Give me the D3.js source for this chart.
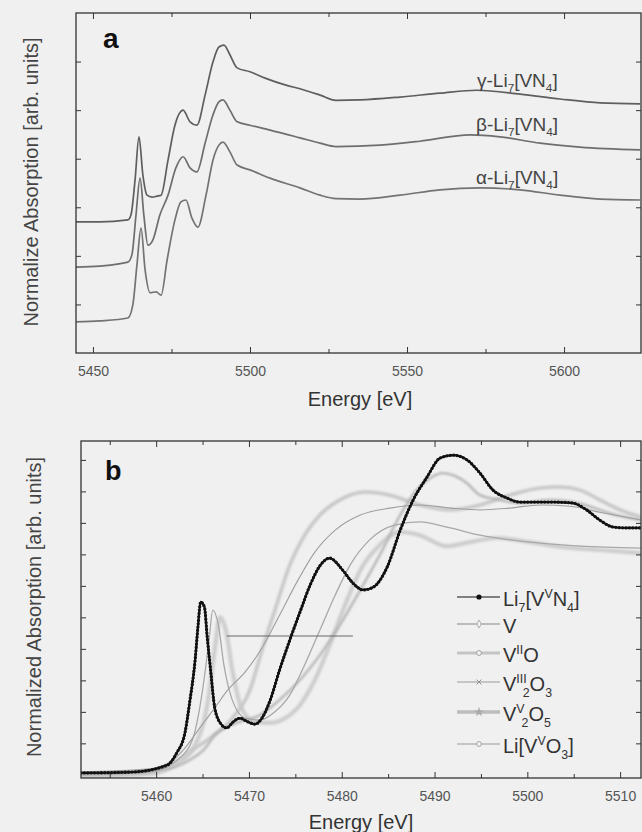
<!DOCTYPE html>
<html><head><meta charset="utf-8">
<script src="https://cdn.jsdelivr.net/npm/d3@7"></script>
<style>
html,body{margin:0;padding:0;background:#f0f0f0;}
svg{display:block;font-family:"Liberation Sans",Arial,Helvetica,sans-serif;}
</style></head><body>
<svg id="c" width="642" height="832"></svg>
<script>
// ---------- Panel a data (Energy eV, normalized absorption, stacked) ----------
const aTicksMajor = [5450, 5500, 5550, 5600];
const aTicksMinor = [5475, 5525, 5575, 5625];
const aYTicks = [1, 2, 3, 4, 5, 6];

const gammaE = [5444.6,5452.2,5461.1,5462.1,5463.4,5464.65,5465.9,5467.2,5468.8,5470.4,5471.7,5473.9,5476.1,5478.7,5480.9,5483.1,5485.7,5488.2,5490.1,5491.7,5493.6,5495.9,5500.0,5504.8,5511.2,5515.9,5522.3,5527.4,5535.0,5547.8,5560.5,5572.3,5586.0,5598.7,5611.5,5624.2];
const gammaY = [2.70,2.70,2.74,2.84,3.56,4.45,3.66,3.25,3.21,3.23,3.25,3.97,4.69,5.00,4.76,4.69,5.31,5.99,6.30,6.34,6.14,5.87,5.79,5.66,5.52,5.44,5.31,5.20,5.21,5.27,5.35,5.41,5.33,5.23,5.15,5.13];

const betaE = [5444.6,5452.2,5461.1,5462.4,5463.7,5465.0,5466.2,5467.5,5469.1,5471.3,5473.9,5476.4,5478.7,5480.9,5483.1,5485.7,5488.2,5490.1,5491.4,5493.6,5495.9,5500.0,5506.4,5515.9,5522.3,5527.4,5541.4,5554.1,5570.1,5579.6,5592.4,5605.1,5624.2];
const betaY = [1.77,1.79,1.87,2.02,2.84,3.60,2.84,2.22,2.33,2.84,3.25,3.81,4.04,3.81,3.73,4.32,4.90,5.17,5.21,5.00,4.76,4.69,4.59,4.43,4.32,4.25,4.28,4.36,4.49,4.45,4.32,4.24,4.18];

const alphaE = [5444.6,5452.2,5461.1,5462.7,5464.0,5465.3,5466.6,5468.2,5470.1,5471.7,5473.6,5476.1,5478.0,5479.6,5481.5,5483.4,5486.0,5488.2,5490.1,5491.4,5493.6,5495.9,5500.0,5506.4,5515.9,5522.3,5527.4,5535.0,5547.8,5560.5,5573.3,5586.0,5598.7,5611.5,5624.2];
const alphaY = [0.64,0.66,0.72,0.99,1.81,2.57,1.71,1.24,1.26,1.19,1.91,2.74,3.11,3.15,2.78,2.59,3.25,3.97,4.28,4.34,4.14,3.87,3.77,3.60,3.40,3.25,3.18,3.17,3.25,3.36,3.40,3.36,3.25,3.17,3.15];

// ---------- Panel b data ----------
const bTicksMajor = [5460, 5470, 5480, 5490, 5500, 5510];
const bTicksMinor = [5455, 5465, 5475, 5485, 5495, 5505];
const bYTicks = [0.1,0.2,0.3,0.4,0.5,0.6,0.7,0.8,0.9,1.0];

const lvnE = [5451.9,5457.5,5461.2,5462.2,5463.1,5463.6,5464.2,5464.5,5464.8,5465.2,5465.5,5465.9,5466.3,5466.9,5467.6,5468.3,5469.0,5469.9,5470.65,5471.4,5472.3,5473.3,5474.4,5475.5,5476.6,5477.7,5478.7,5480.1,5481.2,5482.3,5483.4,5484.9,5486.3,5487.7,5489.2,5490.6,5492.0,5493.5,5494.9,5496.3,5497.8,5499.2,5500.6,5502.8,5504.9,5506.4,5507.8,5509.2,5510.7,5512.2];
const lvnY = [0.006,0.009,0.031,0.069,0.133,0.228,0.365,0.469,0.549,0.533,0.438,0.323,0.215,0.165,0.149,0.168,0.180,0.168,0.161,0.180,0.238,0.333,0.428,0.517,0.603,0.666,0.688,0.650,0.609,0.587,0.596,0.660,0.777,0.873,0.946,1.006,1.015,1.000,0.958,0.904,0.879,0.866,0.866,0.866,0.863,0.841,0.809,0.787,0.784,0.784];

const vE = [5451.9,5459.3,5461.5,5463.1,5464.7,5466.3,5467.7,5469.6,5471.4,5473.3,5475.3,5477.1,5479.3,5482.0,5485.2,5488.4,5491.7,5494.9,5498.1,5501.4,5504.6,5507.8,5512.25];
const vY = [0.009,0.019,0.041,0.085,0.149,0.212,0.269,0.327,0.403,0.507,0.619,0.707,0.777,0.825,0.847,0.857,0.847,0.841,0.847,0.857,0.853,0.834,0.809];

const voE = [5451.9,5459.3,5462.0,5464.2,5466.3,5468.5,5470.1,5471.4,5472.8,5474.4,5476.0,5477.65,5479.8,5482.5,5485.2,5488.4,5491.7,5494.9,5498.1,5501.4,5503.5,5505.7,5507.8,5510.0,5512.25];
const voY = [-0.004,0.009,0.041,0.085,0.127,0.190,0.269,0.396,0.523,0.666,0.761,0.825,0.873,0.898,0.888,0.857,0.841,0.857,0.888,0.911,0.914,0.904,0.873,0.841,0.819];

const v2o3E = [5451.9,5460.4,5463.6,5465.3,5466.3,5467.4,5469.0,5471.2,5473.3,5475.5,5477.65,5479.8,5482.0,5484.1,5486.3,5487.9,5489.5,5490.9,5492.2,5493.5,5494.9,5497.05,5499.2,5502.4,5505.1,5507.8,5510.0,5512.25];
const v2o3Y = [0.003,0.015,0.047,0.085,0.127,0.149,0.168,0.190,0.238,0.301,0.380,0.476,0.587,0.698,0.825,0.898,0.942,0.958,0.949,0.926,0.888,0.873,0.863,0.873,0.866,0.841,0.822,0.809];

const v2o5E = [5451.9,5459.3,5462.0,5464.2,5465.6,5466.3,5466.9,5467.5,5468.3,5469.2,5470.65,5472.3,5473.9,5475.5,5477.1,5478.7,5480.35,5482.0,5484.1,5486.3,5488.4,5491.3,5493.8,5496.7,5500.3,5503.8,5507.8,5512.25];
const v2o5Y = [-0.004,0.003,0.031,0.095,0.238,0.396,0.501,0.460,0.317,0.212,0.168,0.165,0.180,0.222,0.301,0.412,0.539,0.650,0.730,0.771,0.761,0.726,0.739,0.752,0.739,0.723,0.714,0.704];

const livo3E = [5451.9,5459.3,5462.0,5463.9,5465.0,5465.7,5466.1,5466.7,5467.3,5468.2,5469.6,5471.2,5472.8,5474.4,5476.0,5477.65,5479.3,5480.9,5483.0,5485.7,5488.4,5491.7,5494.9,5498.1,5501.4,5505.7,5512.25];
const livo3Y = [0.000,0.009,0.041,0.111,0.269,0.428,0.523,0.476,0.349,0.238,0.180,0.174,0.200,0.253,0.349,0.460,0.571,0.666,0.746,0.793,0.803,0.784,0.761,0.746,0.736,0.726,0.720];

// reference line (edge position marker)
const markE = [5467.6, 5481.2];
const markY = [0.441, 0.441];

// ---------- drawing ----------
const svg = d3.select('#c');
svg.append('rect').attr('width',642).attr('height',832).attr('fill','#f0f0f0');
const defs = svg.append('defs');
defs.append('filter').attr('id','soft').append('feGaussianBlur').attr('stdDeviation',0.9);

const zip = (E, Y) => E.map((e, i) => [e, Y[i]]);

function rich(textSel, parts, size) {
  let shift = 0;
  parts.forEach(p => {
    const [t, k, dx] = p;
    const target = k === 'sub' ? size * 0.28 : (k === 'sup' ? -size * 0.38 : 0);
    const ts = textSel.append('tspan')
      .attr('dy', target - shift)
      .attr('font-size', k ? size * 0.62 : size)
      .text(t);
    if (dx) ts.attr('dx', dx);
    shift = target;
  });
}

function frame(g, x, y, xMaj, xMin, yT) {
  const [x0, x1] = x.range(); const [y0, y1] = y.range();
  g.append('g').attr('transform', `translate(0,${y0})`)
    .call(d3.axisBottom(x).tickValues(xMaj).tickSize(-6).tickPadding(13).tickFormat(d3.format('d')))
    .call(s => { s.select('.domain').remove(); s.selectAll('text').attr('font-size',14).attr('fill','#555'); s.selectAll('line').attr('stroke','#333'); });
  g.append('g').attr('transform', `translate(0,${y0})`)
    .call(d3.axisBottom(x).tickValues(xMin).tickSize(-4).tickFormat(''))
    .call(s => { s.select('.domain').remove(); s.selectAll('line').attr('stroke','#333'); });
  g.append('g').attr('transform', `translate(0,${y1})`)
    .call(d3.axisTop(x).tickValues(xMaj).tickSize(-6).tickFormat(''))
    .call(s => { s.select('.domain').remove(); s.selectAll('line').attr('stroke','#333'); });
  g.append('g').attr('transform', `translate(0,${y1})`)
    .call(d3.axisTop(x).tickValues(xMin).tickSize(-4).tickFormat(''))
    .call(s => { s.select('.domain').remove(); s.selectAll('line').attr('stroke','#333'); });
  g.append('g').attr('transform', `translate(${x0},0)`)
    .call(d3.axisLeft(y).tickValues(yT).tickSize(-5).tickFormat(''))
    .call(s => { s.select('.domain').remove(); s.selectAll('line').attr('stroke','#333'); });
  g.append('g').attr('transform', `translate(${x1},0)`)
    .call(d3.axisRight(y).tickValues(yT).tickSize(-5).tickFormat(''))
    .call(s => { s.select('.domain').remove(); s.selectAll('line').attr('stroke','#333'); });
  g.append('rect').attr('x', x0).attr('y', y1).attr('width', x1 - x0).attr('height', y0 - y1)
    .attr('fill','none').attr('stroke','#333').attr('stroke-width',1.3);
}

// ===== Panel a =====
const xa = d3.scaleLinear().domain([5444.6, 5624.5]).range([76, 641]);
const ya = d3.scaleLinear().domain([0, 7]).range([353, 13]);
const ga = svg.append('g');
const lineA = d3.line().x(d => xa(d[0])).y(d => ya(d[1])).curve(d3.curveMonotoneX);
[[gammaE, gammaY, '#5e5e5e'], [betaE, betaY, '#6e6e6e'], [alphaE, alphaY, '#737373']].forEach(([E, Y, c]) => {
  ga.append('path').datum(zip(E, Y)).attr('d', lineA).attr('fill','none')
    .attr('stroke', c).attr('stroke-width', 1.7).attr('stroke-linejoin','round');
});
frame(ga, xa, ya, aTicksMajor, aTicksMinor, aYTicks);

ga.append('text').attr('x', 103).attr('y', 48).attr('font-size', 28).attr('font-weight','bold').attr('fill','#111').text('a');

const labA = [
  ['γ', 477, 87],
  ['β', 476, 131],
  ['α', 476, 184]
];
labA.forEach(([g, lx, ly]) => {
  const t = ga.append('text').attr('x', lx).attr('y', ly).attr('fill', '#444').attr('font-size', 19);
  rich(t, [[g + '-Li'], ['7', 'sub'], ['[VN'], ['4', 'sub'], [']']], 19);
});

ga.append('text').attr('x', 360).attr('y', 406).attr('text-anchor','middle').attr('font-size', 20).attr('fill','#333').text('Energy [eV]');
ga.append('text').attr('transform', 'translate(38,182) rotate(-90)').attr('text-anchor','middle')
  .attr('font-size', 20).attr('fill','#444').text('Normalize Absorption [arb. units]');

// ===== Panel b =====
const xb = d3.scaleLinear().domain([5451.9, 5512.25]).range([81, 641]);
const yb = d3.scaleLinear().domain([-0.01, 1.06]).range([778, 441]);
const gb = svg.append('g');
const clip = defs.append('clipPath').attr('id','clipb');
clip.append('rect').attr('x', 81).attr('y', 441).attr('width', 560).attr('height', 337);
const lineB = d3.line().x(d => xb(d[0])).y(d => yb(d[1])).curve(d3.curveMonotoneX);
const plotB = gb.append('g').attr('clip-path','url(#clipb)');

const greys = [
  { E: v2o5E, Y: v2o5Y, c: '#cdcdcd', w: 4.2, blur: true },
  { E: voE, Y: voY, c: '#c8c8c8', w: 3.6, blur: true },
  { E: v2o3E, Y: v2o3Y, c: '#b4b4b4', w: 2.4, blur: true },
  { E: livo3E, Y: livo3Y, c: '#a8a8a8', w: 1.3, blur: false },
  { E: vE, Y: vY, c: '#9e9e9e', w: 1.1, blur: false }
];
greys.forEach(s => {
  const p = plotB.append('path').datum(zip(s.E, s.Y)).attr('d', lineB).attr('fill','none')
    .attr('stroke', s.c).attr('stroke-width', s.w).attr('stroke-linejoin','round');
  if (s.blur) p.attr('filter','url(#soft)');
});
plotB.append('path').datum(zip(markE, markY)).attr('d', d3.line().x(d => xb(d[0])).y(d => yb(d[1])))
  .attr('stroke','#666').attr('stroke-width',1.1).attr('fill','none');
const lvn = zip(lvnE, lvnY);
plotB.append('path').datum(lvn).attr('d', lineB).attr('fill','none').attr('stroke','#111').attr('stroke-width',2.2);
plotB.append('path').datum(lvn).attr('d', lineB).attr('fill','none').attr('stroke','#111')
  .attr('stroke-width',3.3).attr('stroke-linecap','round').attr('stroke-dasharray','0 3.4');

frame(gb, xb, yb, bTicksMajor, bTicksMinor, bYTicks);

gb.append('text').attr('x', 105).attr('y', 480).attr('font-size', 27).attr('font-weight','bold').attr('fill','#111').text('b');
gb.append('text').attr('x', 361).attr('y', 829).attr('text-anchor','middle').attr('font-size', 20).attr('fill','#333').text('Energy [eV]');
gb.append('text').attr('transform', 'translate(41,607) rotate(-90)').attr('text-anchor','middle')
  .attr('font-size', 20).attr('fill','#444').text('Normalized Absorption [arb. units]');

// legend
const legendItems = [
  { parts: [['Li'], ['7','sub'], ['[V'], ['V','sup'], ['N'], ['4','sub'], [']']], c: '#111', w: 1.2, m: 'dot' },
  { parts: [['V']], c: '#888', w: 1.1, m: 'diamond' },
  { parts: [['V'], ['II','sup'], ['O']], c: '#c4c4c4', w: 3.2, m: 'ocircle' },
  { parts: [['V'], ['III','sup'], ['2','sub',-4], ['O'], ['3','sub']], c: '#999', w: 1.2, m: 'cross' },
  { parts: [['V'], ['V','sup'], ['2','sub',-3], ['O'], ['5','sub']], c: '#bdbdbd', w: 3.4, m: 'star' },
  { parts: [['Li[V'], ['V','sup'], ['O'], ['3','sub'], [']']], c: '#999', w: 1.1, m: 'ocircle' }
];
const legY = [597, 624, 653, 682, 712, 744];
legendItems.forEach((it, i) => {
  const ly = legY[i];
  const lg = gb.append('g');
  lg.append('line').attr('x1', 457).attr('x2', 500).attr('y1', ly).attr('y2', ly)
    .attr('stroke', it.c).attr('stroke-width', it.w);
  if (it.m === 'dot') lg.append('circle').attr('cx', 479).attr('cy', ly).attr('r', 2.6).attr('fill', '#111');
  else if (it.m === 'ocircle') lg.append('circle').attr('cx', 479).attr('cy', ly).attr('r', 2.4).attr('fill', '#f4f4f4').attr('stroke', '#999').attr('stroke-width', 0.9);
  else if (it.m === 'diamond') lg.append('path').attr('d', d3.symbol(d3.symbolDiamond, 18)()).attr('transform', `translate(479,${ly})`).attr('fill','#f4f4f4').attr('stroke','#999').attr('stroke-width',0.8);
  else if (it.m === 'cross') lg.append('path').attr('d', d3.symbol(d3.symbolX, 18)()).attr('transform', `translate(479,${ly})`).attr('fill','none').attr('stroke','#888').attr('stroke-width',0.9);
  else if (it.m === 'star') lg.append('path').attr('d', d3.symbol(d3.symbolStar, 30)()).attr('transform', `translate(479,${ly})`).attr('fill','#aaa');
  const t = lg.append('text').attr('x', 503).attr('y', ly + 9).attr('font-size', 20).attr('fill', '#333');
  rich(t, it.parts, 20);
});
</script>
</body></html>
